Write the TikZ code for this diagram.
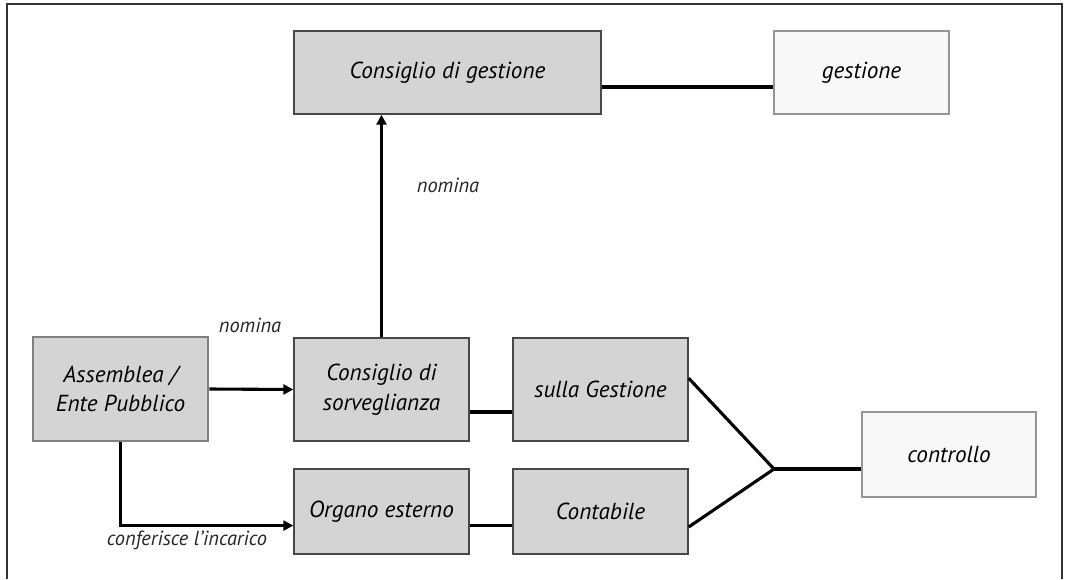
\documentclass[tikz,border=0pt]{standalone}
\usepackage{fontspec}
\setmainfont{PT Sans}
\usetikzlibrary{arrows.meta}
\definecolor{boxgrey}{RGB}{212,212,212}
\definecolor{boxline}{RGB}{72,72,72}
\definecolor{paleline}{RGB}{150,150,150}
\definecolor{palefill}{RGB}{248,248,248}
\begin{document}
\begin{tikzpicture}[x=0.025cm, y=-0.025cm,
    greybox/.style={draw=boxline, line width=1.1pt, fill=boxgrey, align=center,
        font=\fontsize{16.5}{21}\selectfont\itshape, inner sep=0pt},
    whitebox/.style={draw=paleline, line width=1pt, fill=palefill, align=center,
        font=\fontsize{16.5}{21}\selectfont\itshape, inner sep=0pt},
    link/.style={line width=2.2pt, black},
    arr/.style={link, -{Triangle[length=7pt, width=7pt]}},
    lbl/.style={font=\fontsize{14.5}{17}\selectfont\itshape, text=black!85}]
    \useasboundingbox (0,0) rectangle (1065,579);
    \draw [line width=1.6pt, black!80] (7,579) -- (7,4) -- (1062,4) -- (1062,579);

    % upper row
    \node [greybox, minimum width=7.67cm, minimum height=2.07cm] (cdg) at (447.5,72.5) {Consiglio di gestione};
    \node [whitebox, minimum width=4.37cm, minimum height=2.07cm] (gest) at (861.5,72.5) {gestione};

    % lower rows
    \node [greybox, draw=black!50, line width=2pt, minimum width=4.37cm, minimum height=2.6cm] (ass) at (120.5,389) {Assemblea /\\Ente Pubblico};
    \node [greybox, minimum width=4.37cm, minimum height=2.57cm] (cds) at (381.5,389.5) {Consiglio di\\sorveglianza};
    \node [greybox, minimum width=4.37cm, minimum height=2.57cm] (sg) at (600.5,389.5) {sulla Gestione};
    \node [greybox, minimum width=4.37cm, minimum height=2.12cm] (org) at (381.5,511.5) {Organo esterno};
    \node [greybox, minimum width=4.37cm, minimum height=2.12cm] (cont) at (600.5,511.5) {Contabile};
    \node [whitebox, minimum width=4.35cm, minimum height=2.12cm] (ctrl) at (949,454.5) {controllo};
    \coordinate (jn) at (774,469);

    % connectors
    \draw [link, line width=2.8pt] ([yshift=-10pt]cdg.east) -- ([yshift=-10pt]gest.west);
    \draw [arr] (cds.north) -- (cds.north |- cdg.south);
    \draw [arr] (ass.east) -- (cds.west);
    \draw [arr] (ass.south) |- ([yshift=-10pt]org.west);
    \draw [link] ([yshift=-16pt]cds.east) -- ([yshift=-16pt]sg.west);
    \draw [link] ([yshift=-10pt]org.east) -- ([yshift=-10pt]cont.west);
    \draw [link] ([yshift=8pt]sg.east) -- (jn) -- ([yshift=-11pt]cont.east);
    \draw [link, line width=2.8pt] (jn) -- (jn -| ctrl.west);

    % labels
    \node [lbl] (nom1) at (448,185) {nomina};
    \node [lbl] (nom2) at (250,325) {nomina};
    \node [lbl] (conf) at (187,540) {conferisce l'incarico};
\end{tikzpicture}
\end{document}
